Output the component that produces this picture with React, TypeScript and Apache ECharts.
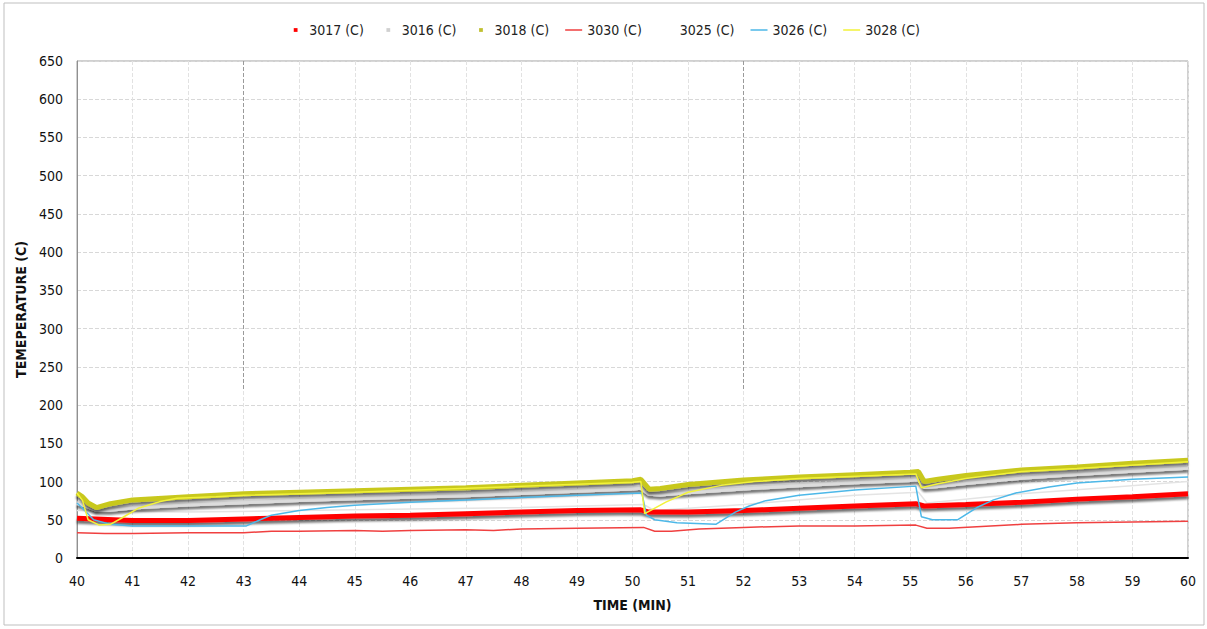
import React, { useEffect, useRef } from "react";
import * as echarts from "echarts";

const FONT = "'Liberation Sans Narrow', 'DejaVu Sans Condensed', 'Arial Narrow', sans-serif";

const seriesNames = ["3017 (C)", "3016 (C)", "3018 (C)", "3030 (C)", "3025 (C)", "3026 (C)", "3028 (C)"];

const s3017: [number, number][] = [
  [40, 52], [41, 49], [42, 49], [43, 51], [44, 53], [45, 55], [46, 56], [47, 58], [48, 60], [49, 62],
  [50.15, 63], [50.3, 60], [51, 60], [52, 62], [53, 65], [54, 68], [55.1, 71], [55.25, 68], [56, 70],
  [57, 73], [58, 77], [59, 80], [60, 84],
];
const s3016: [number, number][] = [
  [40, 72], [40.1, 70], [40.35, 63], [40.6, 63], [41, 66], [42, 70], [43, 73], [44, 76], [45, 78], [46, 80],
  [47, 82], [48, 85], [49, 88], [50, 91], [50.15, 92], [50.3, 84], [50.5, 83], [51, 86], [52, 91], [53, 95],
  [54, 99], [55, 102], [55.15, 103], [55.25, 93], [55.5, 94], [56, 98], [57, 105], [58, 110], [59, 114], [60, 118],
];
const s3018: [number, number][] = [
  [40, 85], [40.1, 80], [40.2, 72], [40.35, 66], [40.6, 71], [41, 76], [42, 80], [43, 84], [44, 86], [45, 88],
  [46, 90], [47, 92], [48, 95], [49, 98], [50, 101], [50.15, 103], [50.3, 90], [50.5, 91], [51, 96], [52, 102],
  [53, 106], [54, 109], [55, 112], [55.15, 113], [55.25, 100], [55.5, 103], [56, 108], [57, 115], [58, 119],
  [59, 124], [60, 128],
];
const s3030: [number, number][] = [
  [40, 33], [40.5, 32], [41, 32], [42, 33], [43, 33], [43.5, 35], [44, 35], [45, 36], [45.5, 35], [46, 36],
  [47, 37], [47.5, 36], [48, 38], [49, 39], [50.2, 40], [50.4, 35], [50.7, 35], [51.2, 38], [52, 40], [53, 42],
  [54, 42], [55.1, 43], [55.3, 39], [55.7, 39], [56.2, 41], [57, 44], [58, 46], [59, 47], [60, 48],
];
const s3025: [number, number][] = [
  [40, 62], [42, 60], [44, 62], [46, 64], [48, 66], [50.2, 70], [50.4, 62], [52, 70], [54, 82], [55.15, 86],
  [55.3, 72], [57, 84], [58.5, 92], [60, 100],
];
const s3026: [number, number][] = [
  [40, 72], [40.1, 65], [40.3, 50], [40.6, 44], [41, 42], [42, 42], [43.05, 42], [43.3, 50], [43.5, 56],
  [44, 62], [44.5, 66], [45, 69], [46, 73], [47, 76], [48, 79], [49, 82], [50.17, 85], [50.25, 56], [50.4, 50],
  [50.8, 46], [51.5, 44], [51.85, 60], [52.1, 68], [52.4, 75], [53, 82], [54, 89], [55.1, 94], [55.2, 54],
  [55.4, 50], [55.85, 50], [56.2, 66], [56.5, 76], [56.9, 85], [57.5, 93], [58, 98], [59, 103], [60, 106],
];
const s3028: [number, number][] = [
  [40, 85], [40.1, 75], [40.2, 50], [40.4, 43], [40.6, 44], [40.8, 52], [41.1, 65], [41.5, 74], [41.8, 78],
  [42.5, 80], [43, 82], [45, 86], [50, 99], [50.15, 100], [50.22, 58], [50.6, 73], [51, 86], [51.6, 95],
  [52.2, 100], [53, 104], [55.1, 110], [55.2, 92], [55.5, 97], [56, 104], [57, 113], [58, 117], [60, 126],
];

const markerIcon = "path://M0,0L0,0M18,8L18,8M7,2L11,2L11,6L7,6Z";
const lineIcon = "path://M0,0L0,0M18,8L18,8M0,3.2L18,3.2L18,4.8L0,4.8Z";
const emptyIcon = "path://M0,0L0,0M18,8L18,8";

export default function App() {
  const ref = useRef<HTMLDivElement>(null);
  useEffect(() => {
    if (!ref.current) return;
    const chart = echarts.init(ref.current, undefined, { renderer: "svg" });
    const shadow = { shadowColor: "rgba(0,0,0,0.55)", shadowBlur: 2, shadowOffsetY: 3 };
    chart.setOption({
      animation: false,
      backgroundColor: "#ffffff",
      textStyle: { fontFamily: FONT },
      graphic: [
        {
          type: "rect",
          shape: { x: 4, y: 3, width: 1200, height: 622 },
          style: { fill: "none", stroke: "#bfbfbf", lineWidth: 1 },
          silent: true,
        },
      ],
      legend: {
        top: 18,
        left: "center",
        itemWidth: 17,
        itemHeight: 8,
        itemGap: 16,
        textStyle: { fontFamily: FONT, fontSize: 14, color: "#222" },
        data: [
          { name: seriesNames[0], icon: markerIcon, itemStyle: { color: "#ff0000" } },
          { name: seriesNames[1], icon: markerIcon, itemStyle: { color: "#d0d0d0" } },
          { name: seriesNames[2], icon: markerIcon, itemStyle: { color: "#c0c030" } },
          { name: seriesNames[3], icon: lineIcon, itemStyle: { color: "#f04040" } },
          { name: seriesNames[4], icon: emptyIcon },
          { name: seriesNames[5], icon: lineIcon, itemStyle: { color: "#4db8e8" } },
          { name: seriesNames[6], icon: lineIcon, itemStyle: { color: "#f2f23a" } },
        ],
      },
      grid: {
        left: 77,
        right: 19,
        top: 61,
        bottom: 71,
        show: true,
        borderColor: "#a0a0a0",
        borderWidth: 1,
      },
      xAxis: {
        type: "value",
        min: 40,
        max: 60,
        interval: 1,
        name: "TIME (MIN)",
        nameLocation: "middle",
        nameGap: 40,
        nameTextStyle: { fontFamily: FONT, fontSize: 14, fontWeight: "bold", color: "#111" },
        axisLine: { show: true, onZero: false, lineStyle: { color: "#000", width: 2 } },
        axisTick: { show: false },
        axisLabel: { fontFamily: FONT, fontSize: 14, color: "#111", margin: 16 },
        splitLine: { show: true, lineStyle: { color: "#e2e2e2", type: "dashed", width: 1 } },
      },
      yAxis: {
        type: "value",
        min: 0,
        max: 650,
        interval: 50,
        name: "TEMEPERATURE (C)",
        nameLocation: "middle",
        nameGap: 46,
        nameTextStyle: { fontFamily: FONT, fontSize: 14, fontWeight: "bold", color: "#111" },
        axisLine: { show: true, lineStyle: { color: "#909090", width: 1 } },
        axisTick: { show: false },
        axisLabel: { fontFamily: FONT, fontSize: 14, color: "#111", margin: 14 },
        splitLine: { show: true, lineStyle: { color: "#d8d8d8", type: "dashed", width: 1 } },
      },
      series: [
        {
          name: seriesNames[0],
          type: "line",
          data: s3017,
          symbol: "none",
          color: "#ff0000",
          lineStyle: { color: "#ff0000", width: 5, ...shadow },
          z: 4,
        },
        {
          name: seriesNames[1],
          type: "line",
          data: s3016,
          symbol: "none",
          color: "#d0d0d0",
          lineStyle: { color: "#dcdcdc", width: 4, ...shadow },
          z: 3,
        },
        {
          name: seriesNames[2],
          type: "line",
          data: s3018,
          symbol: "none",
          color: "#c8c820",
          lineStyle: { color: "#c8c81e", width: 5, ...shadow },
          z: 5,
        },
        {
          name: seriesNames[3],
          type: "line",
          data: s3030,
          symbol: "none",
          color: "#f04040",
          lineStyle: { color: "#f04040", width: 1.5 },
          z: 6,
        },
        {
          name: seriesNames[4],
          type: "line",
          data: s3025,
          symbol: "none",
          color: "#e4e4e4",
          lineStyle: { color: "#e4e4e4", width: 1.5 },
          z: 2,
          markLine: {
            silent: true,
            symbol: "none",
            label: { show: false },
            lineStyle: { color: "#9a9a9a", type: "dashed", width: 1 },
            data: [
              [{ coord: [43, 650] }, { coord: [43, 220] }],
              [{ coord: [52, 650] }, { coord: [52, 220] }],
            ],
          },
        },
        {
          name: seriesNames[5],
          type: "line",
          data: s3026,
          symbol: "none",
          color: "#4db8e8",
          lineStyle: { color: "#4db8e8", width: 1.5 },
          z: 6,
        },
        {
          name: seriesNames[6],
          type: "line",
          data: s3028,
          symbol: "none",
          color: "#f2f23a",
          lineStyle: { color: "#f2f23a", width: 1.5 },
          z: 6,
        },
      ],
    });
    return () => chart.dispose();
  }, []);
  return (
    <div
      ref={ref}
      style={{ position: "fixed", left: 0, top: 0, width: 1207, height: 629, background: "#fff" }}
    />
  );
}
